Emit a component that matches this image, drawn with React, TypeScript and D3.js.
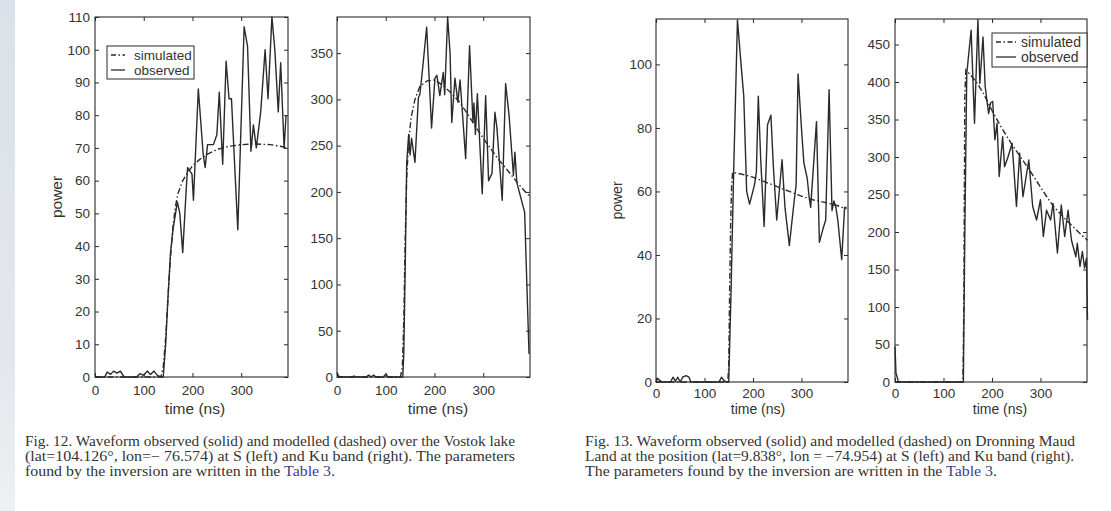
import { useEffect, useRef } from 'react'
import * as d3 from 'd3'

// time axis ticks shared by all four panels (ns)
const timeTicks = [0, 100, 200, 300]
const timeMax = 396

// Fig. 12 - Vostok lake, S band (left)
const fig12STicks = [0, 10, 20, 30, 40, 50, 60, 70, 80, 90, 100, 110]
const fig12SObserved = [
  [0, 0], [20, 0], [25, 1.5], [32, 0.8], [38, 1.8], [45, 1.2], [52, 1.8], [60, 0], [85, 0], [92, 1],
  [100, 0.5], [107, 1.8], [114, 0.8], [121, 1.8], [128, 0.5], [135, 0], [140, 0], [145, 10], [150, 25],
  [155, 38], [160, 45], [169, 53.5], [174, 50], [180, 38], [187, 57], [190, 64], [199, 62], [202, 54],
  [212, 88], [222, 68], [226, 64], [231, 71], [243, 71], [250, 74], [255, 87], [262, 65], [269, 96.5],
  [275, 85], [280, 85], [293, 45], [306, 107], [313, 101], [320, 69], [325, 77], [331, 70], [340, 81],
  [349, 100], [355, 85], [363, 110], [369, 100], [376, 81], [381, 96], [388, 70], [392, 80],
]
const fig12SSimulated = [
  [0, 0], [135, 0], [140, 3], [145, 12], [150, 25], [155, 37], [160, 46], [165, 52], [170, 56], [180, 60],
  [190, 62.5], [200, 64.5], [215, 66.5], [230, 68], [250, 69.5], [275, 70.5], [300, 71], [330, 71.2],
  [360, 71], [380, 70.5], [395, 70],
]

// Fig. 12 - Vostok lake, Ku band (right)
const fig12KuTicks = [0, 50, 100, 150, 200, 250, 300, 350]
const fig12KuObserved = [
  [0, 5], [3, 1], [8, 0], [30, 0], [35, 1], [40, 0], [60, 0], [65, 2], [70, 0], [75, 2], [80, 0], [95, 0],
  [100, 3], [105, 0], [135, 0], [137, 25], [140, 120], [143, 231], [147, 262], [150, 240], [153, 258],
  [160, 232], [167, 302], [170, 305], [176, 335], [184, 378], [194, 269], [201, 323], [205, 326],
  [211, 304], [218, 329], [221, 305], [227, 389], [232, 350], [235.5, 275], [242, 323], [248, 297],
  [252.5, 321], [257, 288], [264, 236], [272, 358], [279, 275], [281, 296], [284, 262], [288, 306],
  [298, 198], [305, 304], [311, 212], [318, 220], [324, 286], [328, 270], [339, 191], [346, 317],
  [353, 283], [362, 218], [365, 243], [369, 210], [374, 200], [380.5, 187], [385, 178], [389.5, 101],
  [394, 25],
]
const fig12KuSimulated = [
  [0, 0], [130, 0], [134, 10], [137, 60], [140, 150], [143, 215], [147, 255], [152, 280], [160, 300],
  [170, 314], [185, 320], [200, 321], [215, 316], [230, 309], [250, 298], [267, 285], [290, 266],
  [308, 252], [330, 236], [349, 224], [370, 210], [390, 198], [396, 195],
]

// Fig. 13 - Dronning Maud Land, S band (left)
const fig13STicks = [0, 20, 40, 60, 80, 100]
const fig13SObserved = [
  [0, 0], [3, 1.2], [8, 0.5], [12, 0], [30, 0], [35, 1.5], [40, 0.3], [45, 1.5], [50, 0], [55, 1.5],
  [62, 2], [68, 1.5], [72, 0], [130, 0], [135, 1.5], [140, 0.5], [145, 0], [150, 0], [155, 30], [160, 65],
  [168, 114], [176, 99], [181, 90], [187, 60], [193, 56], [203, 62], [207, 66], [211, 90], [216, 70],
  [223, 49], [230, 81], [237, 84], [242, 68], [249, 51], [260, 70], [266, 55], [275, 43], [285, 57],
  [289, 62], [293, 97], [300, 80], [305, 69], [312, 64], [316, 58], [319, 55], [331, 82], [337, 44],
  [344, 48], [350, 51], [357, 92], [363, 54], [367, 57], [371, 55], [375, 51], [383, 38.5], [389, 55],
  [393, 55],
]
const fig13SSimulated = [
  [0, 0], [148, 0], [150, 5], [152, 30], [154, 50], [156, 62], [158, 66], [175, 65.5], [200, 64.5],
  [225, 63], [250, 61.5], [275, 60], [300, 58.5], [325, 57.3], [350, 56.5], [375, 55.5], [393, 54.5],
]

// Fig. 13 - Dronning Maud Land, Ku band (right)
const fig13KuTicks = [0, 50, 100, 150, 200, 250, 300, 350, 400, 450]
const fig13KuObserved = [
  [0, 47], [2, 12], [7, 0.5], [10, 0], [141, 0], [144, 200], [148, 411], [157, 469], [164, 345],
  [171, 483], [175, 398], [181.5, 460], [186, 394], [193, 358], [197, 372], [201.5, 374], [206, 323],
  [210.5, 345], [215, 274], [222, 327], [226, 287], [233, 300], [241.5, 318], [250.5, 234], [257, 305],
  [264, 247], [270.5, 274], [276, 296], [284, 234], [292, 216], [300, 243], [306, 194], [312.5, 229],
  [321, 216], [326, 238], [335, 172], [343, 236], [350, 194], [357, 229], [364, 189], [373, 167],
  [376, 185], [381.5, 154], [386.5, 174], [391, 152], [395, 165], [397, 83],
]
const fig13KuSimulated = [
  [0, 0], [140, 0], [142, 100], [143, 250], [144, 380], [146, 416], [155, 410], [170, 398], [182, 385],
  [200, 362], [217, 342], [240, 318], [259, 300], [280, 280], [294, 266], [310, 250], [327, 234],
  [350, 218], [369, 206], [385, 196], [397, 189],
]

const legendLabels = ['simulated', 'observed']

const fig12Caption = [
  'Fig. 12. Waveform observed (solid) and modelled (dashed) over the Vostok lake',
  '(lat=104.126°, lon=− 76.574) at S (left) and Ku band (right). The parameters',
  'found by the inversion are written in the ',
]
const fig13Caption = [
  'Fig. 13. Waveform observed (solid) and modelled (dashed) on Dronning Maud',
  'Land at the position (lat=9.838°, lon = −74.954) at S (left) and Ku band (right).',
  'The parameters found by the inversion are written in the ',
]

const INK = '#2a2a2a'
const TEXT = '#333'
const SANS = '"Liberation Sans", Arial, Helvetica, sans-serif'
const SERIF = '"Liberation Serif", "Times New Roman", serif'

export default function App() {
  const svgRef = useRef(null)

  useEffect(() => {
    const svg = d3.select(svgRef.current)
    svg.selectAll('*').remove()

    // faint bluish strip on the left edge
    const grad = svg.append('defs').append('linearGradient')
      .attr('id', 'edge').attr('x1', 0).attr('x2', 0).attr('y1', 0).attr('y2', 1)
    grad.append('stop').attr('offset', '0%').attr('stop-color', '#dbe1e8')
    grad.append('stop').attr('offset', '70%').attr('stop-color', '#e3e7ec')
    grad.append('stop').attr('offset', '100%').attr('stop-color', '#eef0f2')
    svg.append('rect').attr('x', 0).attr('y', 0).attr('width', 15).attr('height', 511).attr('fill', 'url(#edge)')

    const panels = [
      { left: 95, right: 288, top: 17, bottom: 377, yMax: 110, yTicks: fig12STicks,
        obs: fig12SObserved, sim: fig12SSimulated, font: 13.5, labFont: 15.5, ylab: 57, xlab: 195, xlabY: 409, xPad: 8, yPad: 5,
        legend: { x: 107, y: 46, w: 87, h: 33, font: 13.5, sample: 14, textX: 27 } },
      { left: 337, right: 530, top: 17, bottom: 377, yMax: 389, yTicks: fig12KuTicks,
        obs: fig12KuObserved, sim: fig12KuSimulated, font: 13.5, labFont: 15.5, ylab: null, xlab: 438, xlabY: 409, xPad: 8, yPad: 4 },
      { left: 656, right: 848, top: 19, bottom: 382, yMax: 114.3, yTicks: fig13STicks,
        obs: fig13SObserved, sim: fig13SSimulated, font: 13.5, labFont: 14, ylab: 617, xlab: 758, xlabY: 409, xPad: 6, yPad: 4 },
      { left: 895, right: 1087, top: 19, bottom: 382, yMax: 484, yTicks: fig13KuTicks,
        obs: fig13KuObserved, sim: fig13KuSimulated, font: 13.5, labFont: 14, ylab: null, xlab: 1000, xlabY: 409, xPad: 6, yPad: 5,
        legend: { x: 992, y: 33, w: 95, h: 34, font: 14, sample: 20, textX: 29 } },
    ]

    panels.forEach((p) => {
      const W = p.right - p.left
      const H = p.bottom - p.top
      const x = d3.scaleLinear().domain([0, timeMax]).range([0, W])
      const y = d3.scaleLinear().domain([0, p.yMax]).range([H, 0])
      const g = svg.append('g').attr('transform', `translate(${p.left},${p.top})`)

      g.append('rect').attr('width', W).attr('height', H).attr('fill', '#fff')

      const style = (ax) => {
        ax.select('.domain').remove()
        ax.selectAll('.tick line').attr('stroke', INK).attr('stroke-width', 1)
        ax.selectAll('text').attr('fill', TEXT).attr('font-size', p.font).attr('font-family', SANS)
      }

      g.append('g').call(d3.axisLeft(y).tickValues(p.yTicks).tickSizeInner(-4).tickSizeOuter(0).tickPadding(p.yPad)).call(style)
      g.append('g').attr('transform', `translate(${W},0)`)
        .call(d3.axisRight(y).tickValues(p.yTicks).tickSizeInner(-4).tickSizeOuter(0).tickFormat(() => '')).call(style)
      g.append('g').attr('transform', `translate(0,${H})`)
        .call(d3.axisBottom(x).tickValues(timeTicks).tickSizeInner(-4).tickSizeOuter(0).tickPadding(p.xPad)).call(style)
      g.append('g')
        .call(d3.axisTop(x).tickValues(timeTicks).tickSizeInner(-4).tickSizeOuter(0).tickFormat(() => '')).call(style)

      const line = d3.line().x((d) => x(d[0])).y((d) => y(d[1]))

      g.append('path').datum(p.sim).attr('d', line).attr('fill', 'none')
        .attr('stroke', INK).attr('stroke-width', 1.4).attr('stroke-dasharray', '6,2.5,1.5,2.5')
      g.append('path').datum(p.obs).attr('d', line).attr('fill', 'none')
        .attr('stroke', INK).attr('stroke-width', 1.4).attr('stroke-linejoin', 'round')

      g.append('rect').attr('width', W).attr('height', H).attr('fill', 'none')
        .attr('stroke', INK).attr('stroke-width', 1.1)

      if (p.ylab !== null) {
        svg.append('text')
          .attr('transform', `translate(${p.ylab},${p.top + H / 2}) rotate(-90)`)
          .attr('text-anchor', 'middle').attr('dy', '0.35em')
          .attr('font-family', SANS).attr('font-size', p.labFont).attr('fill', TEXT)
          .text('power')
      }
      svg.append('text')
        .attr('x', p.xlab).attr('y', p.xlabY)
        .attr('text-anchor', 'middle').attr('dy', '0.35em')
        .attr('font-family', SANS).attr('font-size', p.labFont).attr('fill', TEXT)
        .text('time (ns)')

      if (p.legend) {
        const L = p.legend
        svg.append('rect').attr('x', L.x).attr('y', L.y).attr('width', L.w).attr('height', L.h)
          .attr('fill', '#fff').attr('stroke', INK).attr('stroke-width', 1)
        legendLabels.forEach((label, i) => {
          const ly = L.y + 9 + i * 15
          svg.append('line')
            .attr('x1', L.x + 4).attr('x2', L.x + 4 + L.sample).attr('y1', ly).attr('y2', ly)
            .attr('stroke', INK).attr('stroke-width', 1.3)
            .attr('stroke-dasharray', i === 0 ? '5,2.5,1.5,2.5' : null)
          svg.append('text')
            .attr('x', L.x + L.textX).attr('y', ly).attr('dy', '0.35em')
            .attr('font-family', SANS).attr('font-size', L.font).attr('fill', TEXT)
            .text(label)
        })
      }
    })

    // captions are set in a slightly wide serif: stretch each line to its measured width
    const caption = (lines, x0, widths) => {
      lines.forEach((t, i) => {
        const txt = svg.append('text')
          .attr('x', x0).attr('y', 446 + i * 15)
          .attr('font-family', SERIF).attr('font-size', 14).attr('fill', TEXT)
          .attr('textLength', widths[i]).attr('lengthAdjust', 'spacingAndGlyphs')
        if (i < 2) {
          txt.text(t)
        } else {
          txt.append('tspan').text(t)
          txt.append('tspan').attr('fill', '#3b3e8f').text('Table 3')
          txt.append('tspan').text('.')
        }
      })
    }
    caption(fig12Caption, 25, [490, 490, 310])
    caption(fig13Caption, 585, [490, 489, 412])
  }, [])

  return (
    <div style={{ position: 'absolute', left: 0, top: 0 }}>
      <svg ref={svgRef} width={1111} height={511} style={{ display: 'block', background: '#fff' }} />
    </div>
  )
}
